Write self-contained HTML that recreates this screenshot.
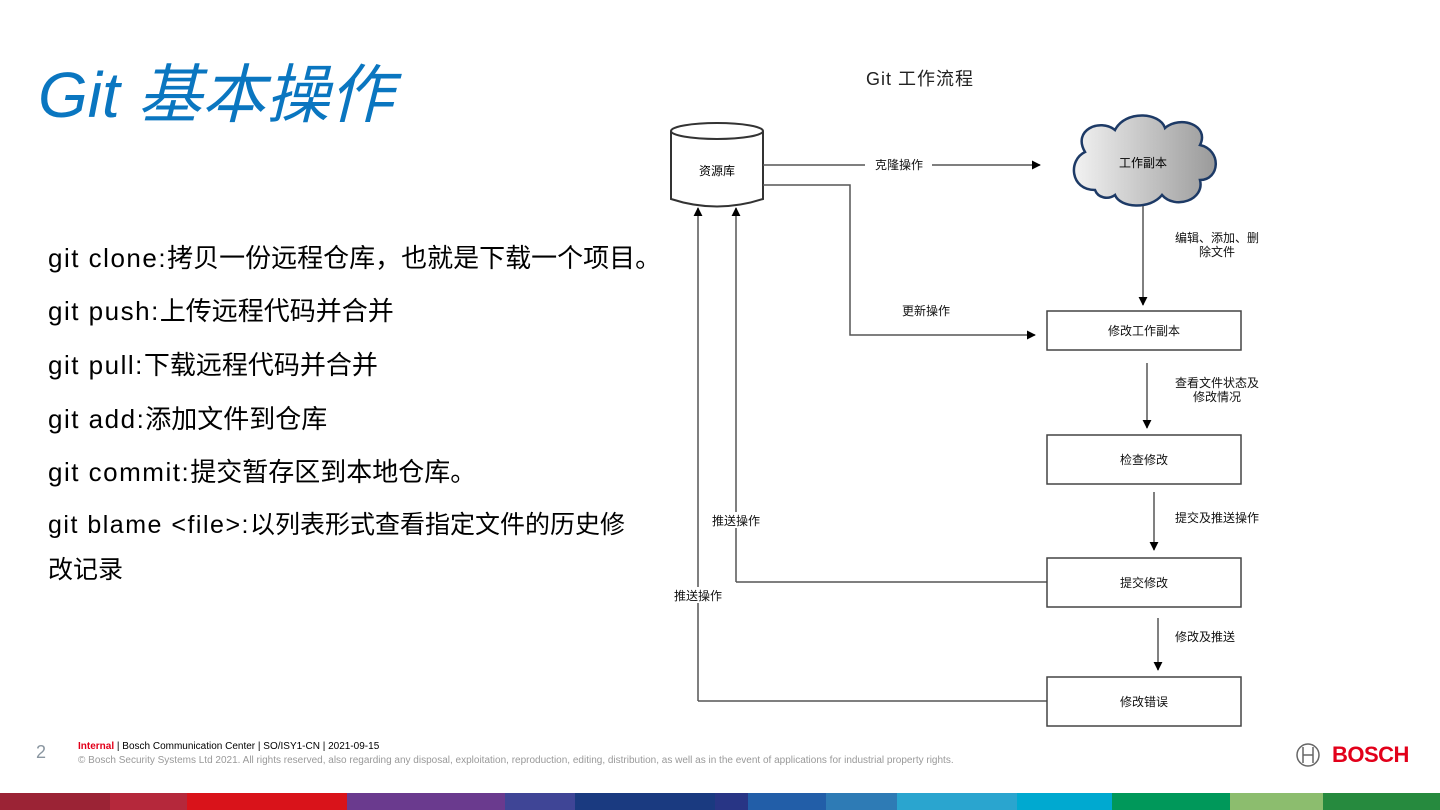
<!DOCTYPE html>
<html><head><meta charset="utf-8"><style>
body{margin:0;width:1440px;height:810px;overflow:hidden;background:#fff;position:relative;font-family:"Liberation Sans","Noto Sans CJK SC",sans-serif}
.t{position:absolute;white-space:nowrap}
.li{position:absolute;left:48px;font-size:26px;color:#000;white-space:nowrap}
.li span{letter-spacing:1.5px}
</style></head><body>
<div class="t" style="left:38px;top:63px;font-size:64px;font-style:italic;color:#0a76c0;line-height:1">Git 基本操作</div>
<div class="li" style="top:238px"><span>git clone:</span>拷贝一份远程仓库，也就是下载一个项目。</div>
<div class="li" style="top:291px"><span>git push:</span>上传远程代码并合并</div>
<div class="li" style="top:345px"><span>git pull:</span>下载远程代码并合并</div>
<div class="li" style="top:399px"><span>git add:</span>添加文件到仓库</div>
<div class="li" style="top:452px"><span>git commit:</span>提交暂存区到本地仓库。</div>
<div class="li" style="top:505px;font-size:25px"><span>git blame &lt;file&gt;:</span>以列表形式查看指定文件的历史修</div>
<div class="li" style="top:550px;font-size:25px">改记录</div>

<svg width="1440" height="810" style="position:absolute;left:0;top:0" font-family="Liberation Sans, Noto Sans CJK SC, sans-serif">
<defs>
<linearGradient id="g" x1="0" x2="1"><stop offset="0" stop-color="#f2f2f2"/><stop offset="1" stop-color="#9a9a9a"/></linearGradient>
<marker id="a" viewBox="0 0 10 10" refX="9" refY="5" markerWidth="9" markerHeight="9" orient="auto" markerUnits="userSpaceOnUse"><path d="M0,0L10,5L0,10z" fill="#000"/></marker>
</defs>
<text x="920" y="85" font-size="18" text-anchor="middle" letter-spacing="1" fill="#222">Git 工作流程</text>
<path d="M671,131 L671,199 Q717,214 763,199 L763,131" fill="#fff" stroke="#333" stroke-width="2"/>
<ellipse cx="717" cy="131" rx="46" ry="8" fill="#fff" stroke="#333" stroke-width="2"/>
<text x="717" y="175" font-size="12" text-anchor="middle">资源库</text>
<path d="M1095,190 C1070,190 1068,160 1085,152 C1072,130 1100,118 1115,130 C1125,110 1160,112 1165,128 C1180,115 1210,125 1200,145 C1222,150 1220,180 1200,180 C1205,200 1175,210 1162,195 C1150,210 1120,208 1115,195 C1108,200 1098,198 1095,190 Z" fill="url(#g)" stroke="#1d3a66" stroke-width="2.5"/>
<text x="1143" y="167" font-size="12" text-anchor="middle">工作副本</text>
<g stroke="#555" stroke-width="1.5" fill="none">
<line x1="763" y1="165" x2="865" y2="165"/><line x1="932" y1="165" x2="1040" y2="165" marker-end="url(#a)"/>
<polyline points="763,185 850,185 850,335 1035,335" marker-end="url(#a)"/>
<line x1="698" y1="701" x2="698" y2="208" marker-end="url(#a)"/>
<line x1="1047" y1="701" x2="698" y2="701"/>
<line x1="736" y1="582" x2="736" y2="208" marker-end="url(#a)"/>
<line x1="1047" y1="582" x2="736" y2="582"/>
<line x1="1143" y1="206" x2="1143" y2="305" marker-end="url(#a)"/>
<line x1="1147" y1="363" x2="1147" y2="428" marker-end="url(#a)"/>
<line x1="1154" y1="492" x2="1154" y2="550" marker-end="url(#a)"/>
<line x1="1158" y1="618" x2="1158" y2="670" marker-end="url(#a)"/>
</g>
<g fill="#fff" stroke="#444" stroke-width="1.5">
<rect x="1047" y="311" width="194" height="39"/>
<rect x="1047" y="435" width="194" height="49"/>
<rect x="1047" y="558" width="194" height="49"/>
<rect x="1047" y="677" width="194" height="49"/>
</g>
<g font-size="12" text-anchor="middle" fill="#111">
<text x="899" y="169">克隆操作</text>
<text x="926" y="315">更新操作</text>
<text x="1144" y="335">修改工作副本</text>
<text x="1144" y="464">检查修改</text>
<text x="1144" y="587">提交修改</text>
<text x="1144" y="706">修改错误</text>
<text x="1217" y="242">编辑、添加、删</text>
<text x="1217" y="256">除文件</text>
<text x="1217" y="387">查看文件状态及</text>
<text x="1217" y="401">修改情况</text>
<text x="1217" y="522">提交及推送操作</text>
<text x="1205" y="641">修改及推送</text>
<rect x="705" y="512" width="60" height="16" fill="#fff"/>
<text x="736" y="525">推送操作</text>
<rect x="668" y="587" width="60" height="16" fill="#fff"/>
<text x="698" y="600">推送操作</text>
</g>
<circle cx="1308" cy="755" r="11" fill="none" stroke="#666" stroke-width="1.5"/>
<path d="M1303,747v16M1313,747v16M1303,755h10" stroke="#666" stroke-width="1.5"/>
</svg>
<div class="t" style="left:1332px;top:742px;font-size:22px;font-weight:bold;color:#e2001a;letter-spacing:-0.5px">BOSCH</div>
<div class="t" style="left:36px;top:742px;font-size:18px;color:#8a96a0">2</div>
<div class="t" style="left:78px;top:741px;font-size:10px;color:#000"><b style="color:#e2001a">Internal</b> | Bosch Communication Center | SO/ISY1-CN | 2021-09-15</div>
<div class="t" style="left:78px;top:755px;font-size:10px;color:#999">© Bosch Security Systems Ltd 2021. All rights reserved, also regarding any disposal, exploitation, reproduction, editing, distribution, as well as in the event of applications for industrial property rights.</div>
<div style="position:absolute;left:0;top:793px;width:1440px;height:17px;display:flex">
<div style="width:110px;background:#9b2335"></div><div style="width:77px;background:#b5283b"></div><div style="width:160px;background:#d9131a"></div><div style="width:158px;background:#6a3a8e"></div><div style="width:70px;background:#3f4596"></div><div style="width:140px;background:#1a3a80"></div><div style="width:33px;background:#283585"></div><div style="width:78px;background:#225ea8"></div><div style="width:71px;background:#2e7bb5"></div><div style="width:120px;background:#2aa5cf"></div><div style="width:95px;background:#00a9d0"></div><div style="width:118px;background:#00985a"></div><div style="width:93px;background:#8cbd6e"></div><div style="width:117px;background:#268a3e"></div>
</div>
</body></html>
